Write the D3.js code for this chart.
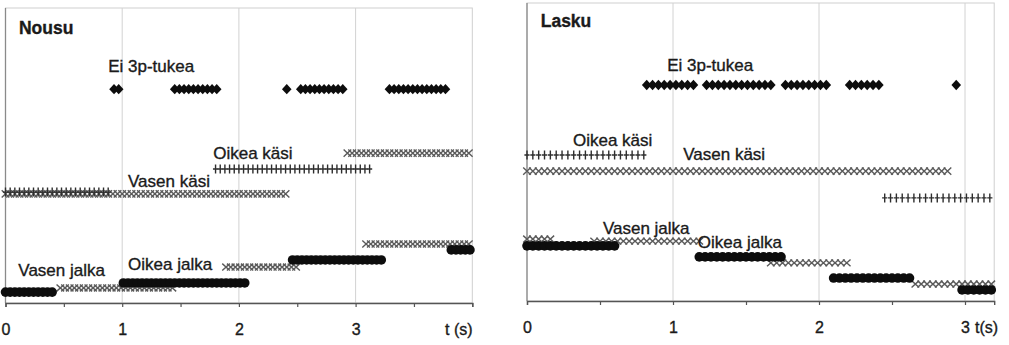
<!DOCTYPE html>
<html>
<head>
<meta charset="utf-8">
<script src="https://cdn.jsdelivr.net/npm/d3@7"></script>
<style>
body { margin: 0; background: #fff; }
svg text { font-family: "Liberation Sans", Arial, sans-serif; fill: #1a1a1a; stroke: #1a1a1a; stroke-width: 0.35px; }
</style>
</head>
<body>
<svg id="chart" width="1009" height="345"></svg>
<script>
// segments: [alku (s), loppu (s), taso]
var nousuEiTukea = [[0.93, 0.98, 72.5], [1.45, 1.79, 72.5], [2.41, 2.41, 72.5], [2.53, 2.90, 72.5], [3.29, 3.79, 72.5]];
var nousuOikeaKasi = [[0, 0.90, 37.6], [1.80, 3.11, 45.4]];
var nousuVasenKasi = [[0, 2.39, 37.0], [2.93, 3.98, 50.8]];
var nousuVasenJalka = [[0.47, 1.42, 5.1], [1.89, 2.49, 12.2], [3.09, 3.96, 20.0]];
var nousuOikeaJalka = [[0, 0.40, 3.7], [1.01, 2.05, 6.8], [2.46, 3.23, 14.6], [3.82, 3.96, 18.0]];

var laskuEiTukea = [[0.82, 1.12, 72.5], [1.23, 1.66, 72.5], [1.77, 2.06, 72.5], [2.21, 2.42, 72.5], [2.94, 2.94, 72.5]];
var laskuOikeaKasi = [[0, 0.79, 49.0], [2.45, 3.18, 34.6]];
var laskuVasenKasi = [[0, 2.90, 43.6]];
var laskuVasenJalka = [[0, 0.18, 20.8], [0.46, 1.18, 20.1], [1.67, 2.18, 12.8], [2.66, 3.17, 5.7]];
var laskuOikeaJalka = [[0, 0.60, 18.5], [1.18, 1.73, 14.8], [2.10, 2.61, 7.7], [2.98, 3.17, 3.7]];

var seriesNames = ["Ei 3p-tukea", "Oikea käsi", "Vasen käsi", "Vasen jalka", "Oikea jalka"];
var tickLabels = ["0", "1", "2", "3"];

// label anchor [t, taso], same order as seriesNames
var nousuLabelPos = [[0.88, 78.2], [1.78, 48.8], [1.05, 39.3], [0.11, 9.2], [1.05, 11.2]];
var laskuLabelPos = [[0.96, 77.2], [0.315, 52.1], [1.07, 47.3], [0.52, 22.5], [1.17, 17.8]];

var dt = 0.04; // sampling interval of markers

var svg = d3.select("#chart");

var shapes = {
    kasiVasen: function (g) {
        g.append("path").attr("d", "M-3.8,-3.6L3.8,3.6M-3.8,3.6L3.8,-3.6")
            .attr("stroke", "#5a5a5a").attr("stroke-width", 1.4).attr("fill", "none");
    },
    kasiOikea: function (g) {
        g.append("path").attr("d", "M0,-4.5V4.5M-2.6,0H2.6")
            .attr("stroke", "#2e2e2e").attr("stroke-width", 1.4).attr("fill", "none");
    },
    jalkaVasen: function (g) {
        g.append("path").attr("d", "M-3.8,-3.4L3.8,3.4M-3.8,3.4L3.8,-3.4")
            .attr("stroke", "#5a5a5a").attr("stroke-width", 1.4).attr("fill", "none");
    },
    jalkaOikea: function (g) {
        g.append("circle").attr("r", 4.8).attr("fill", "#0d0d0d");
    },
    tuki: function (g) {
        g.append("path").attr("d", "M0,-5.2L4.8,0L0,5.2L-4.8,0Z").attr("fill", "#0d0d0d");
    }
};

function drawPanel(p) {
    var x = d3.scaleLinear().domain([0, p.tmax]).range([p.left, p.right]);
    var y = d3.scaleLinear().domain([0, 100]).range([p.bottom, p.top]);
    var g = svg.append("g");

    // frame and grid
    g.append("rect")
        .attr("x", p.left).attr("y", p.top)
        .attr("width", p.right - p.left).attr("height", p.bottom - p.top)
        .attr("fill", "#fff").attr("stroke", "#cfcfcf");
    g.selectAll(".grid").data([1, 2, 3]).enter().append("line")
        .attr("x1", function (d) { return x(d); }).attr("x2", function (d) { return x(d); })
        .attr("y1", p.top).attr("y2", p.bottom)
        .attr("stroke", "#d2d2d2");
    g.append("line")
        .attr("x1", p.left).attr("x2", p.left).attr("y1", p.top).attr("y2", p.bottom)
        .attr("stroke", "#8a8a8a").attr("stroke-width", 1.3);

    var xAxis = d3.axisBottom(x)
        .tickValues(d3.range(0, p.tmax + 0.01, 0.5))
        .tickSize(4)
        .tickPadding(17)
        .tickFormat(function (d) { return d % 1 === 0 && d < tickLabels.length ? tickLabels[d] : ""; });
    var ax = g.append("g").attr("transform", "translate(0," + p.bottom + ")").call(xAxis);
    ax.select(".domain").attr("stroke", "#555").attr("stroke-width", 1.4);
    ax.selectAll(".tick line").attr("stroke", "#555").attr("stroke-width", 1.2);
    ax.selectAll(".tick text").style("font-size", "16px").attr("fill", "#1a1a1a")
        .style("font-family", "'Liberation Sans', Arial, sans-serif");

    g.append("text")
        .attr("x", p.unitX).attr("y", p.bottom + 32)
        .style("font-size", "16px").text(p.unit);

    // series
    p.series.forEach(function (s) {
        s.data.forEach(function (seg) {
            var ts = d3.range(seg[0], seg[1] + dt / 2, dt);
            g.append("g").selectAll("g").data(ts).enter().append("g")
                .attr("transform", function (t) { return "translate(" + x(t) + "," + y(seg[2]) + ")"; })
                .each(function () { shapes[s.shape](d3.select(this)); });
        });
    });

    // texts
    g.append("text")
        .attr("x", x(p.titlePos[0])).attr("y", y(p.titlePos[1]))
        .style("font-size", "17.5px").style("font-weight", "bold")
        .text(p.title);
    g.selectAll(".lbl").data(seriesNames).enter().append("text")
        .attr("x", function (d, i) { return x(p.labelPos[i][0]); })
        .attr("y", function (d, i) { return y(p.labelPos[i][1]); })
        .style("font-size", "17px")
        .text(function (d) { return d; });
}

drawPanel({
    title: "Nousu", titlePos: [0.115, 91.2],
    left: 5.5, right: 472.3, top: 8, bottom: 303, tmax: 4,
    unit: "t (s)", unitX: 445,
    labelPos: nousuLabelPos,
    series: [
        { data: nousuVasenKasi, shape: "kasiVasen" },
        { data: nousuOikeaKasi, shape: "kasiOikea" },
        { data: nousuVasenJalka, shape: "jalkaVasen" },
        { data: nousuOikeaJalka, shape: "jalkaOikea" },
        { data: nousuEiTukea, shape: "tuki" }
    ]
});

drawPanel({
    title: "Lasku", titlePos: [0.094, 91.8],
    left: 527, right: 994.2, top: 3, bottom: 301, tmax: 3.2,
    unit: "t(s)", unitX: 975,
    labelPos: laskuLabelPos,
    series: [
        { data: laskuVasenKasi, shape: "kasiVasen" },
        { data: laskuOikeaKasi, shape: "kasiOikea" },
        { data: laskuVasenJalka, shape: "jalkaVasen" },
        { data: laskuOikeaJalka, shape: "jalkaOikea" },
        { data: laskuEiTukea, shape: "tuki" }
    ]
});
</script>
</body>
</html>
